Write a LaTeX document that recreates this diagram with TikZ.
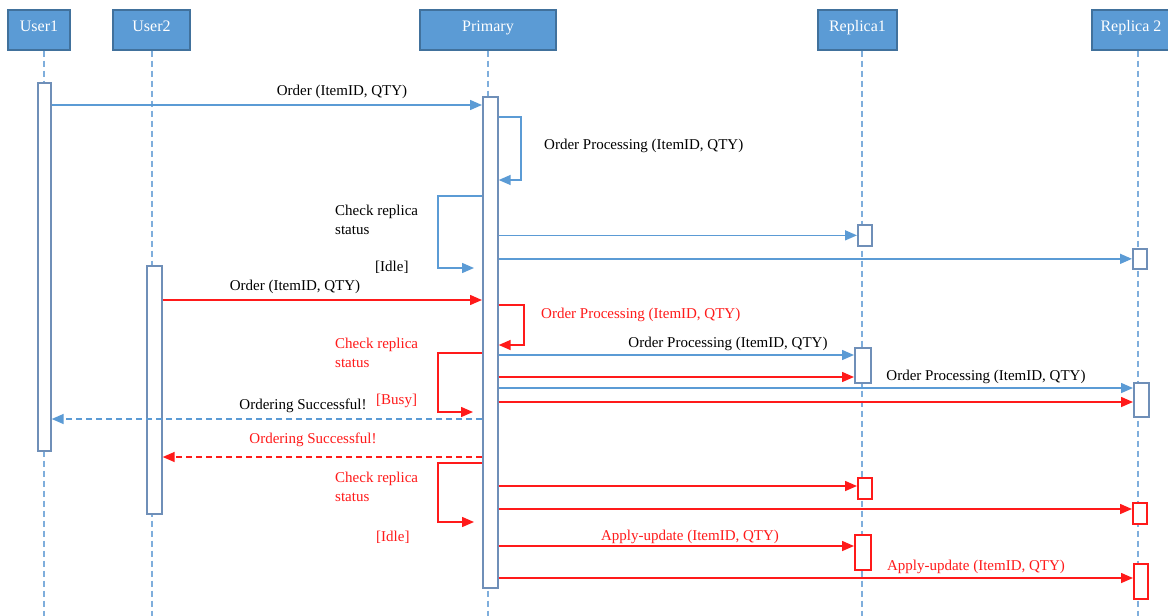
\documentclass[tikz,border=0pt]{standalone}
\usepackage{fontspec}
\setmainfont{Liberation Serif}
\usetikzlibrary{arrows.meta}
\definecolor{hdrfill}{HTML}{5B9BD5}
\definecolor{hdrline}{HTML}{41719C}
\definecolor{msgblue}{HTML}{5B9BD5}
\definecolor{actline}{HTML}{6F8FB8}
\definecolor{msgred}{HTML}{FF1A1A}
\definecolor{lifeblue}{HTML}{7FAEDC}
\begin{document}
\begin{tikzpicture}[x=1pt,y=-1pt,
  hdrbox/.style={draw=hdrline, fill=hdrfill, line width=1.2pt, text=white, inner sep=0pt, minimum height=40pt, font=\fontsize{16}{16}\selectfont, text height=10pt, text depth=7pt},
  lifeline/.style={draw=lifeblue, line width=1.2pt, dash pattern=on 6pt off 4pt},
  actbox/.style={draw=actline, fill=white, line width=1.7pt, inner sep=0pt, anchor=north west},
  ractbox/.style={actbox, draw=msgred},
  tiparrow/.style={-{Triangle[length=12pt,width=10pt]}},
  bmsg/.style={draw=msgblue, line width=1.5pt, tiparrow},
  rmsg/.style={draw=msgred, line width=1.5pt, tiparrow},
  retdash/.style={dash pattern=on 6pt off 4pt},
  lbl/.style={font=\fontsize{15}{19}\selectfont, inner sep=0pt, text=black},
  rlbl/.style={lbl, text=msgred},
]
\clip (0,0) rectangle (1168,616);
\fill[white] (0,0) rectangle (1168,616);

% headers
\node[hdrbox, minimum width=62pt]  (u1) at (39,30)    {User1};
\node[hdrbox, minimum width=77pt]  (u2) at (151.5,30) {User2};
\node[hdrbox, minimum width=136pt] (pr) at (488,30)   {Primary};
\node[hdrbox, minimum width=79pt]  (r1) at (857.5,30) {Replica1};
\node[hdrbox, minimum width=78pt]  (r2) at (1131,30)  {Replica 2};

% lifelines
\draw[lifeline] (u1.south -| 44,0)   -- (44,616);
\draw[lifeline] (u2.south -| 152,0)  -- (152,616);
\draw[lifeline] (pr.south -| 488,0)  -- (488,616);
\draw[lifeline] (r1.south -| 862,0)  -- (862,616);
\draw[lifeline] (r2.south -| 1138,0) -- (1138,616);

% activations
\node[actbox, minimum width=13pt, minimum height=368pt] (u1a) at (37,82) {};
\node[actbox, minimum width=15pt, minimum height=248pt] (u2a) at (146,265) {};
\node[actbox, minimum width=15pt, minimum height=491pt] (pa)  at (482,96) {};
\node[actbox, minimum width=14pt, minimum height=21pt]  (r1a) at (857,224) {};
\node[actbox, minimum width=14pt, minimum height=20pt]  (r2a) at (1132,248) {};
\node[actbox, minimum width=16pt, minimum height=35pt]  (r1b) at (854,347) {};
\node[actbox, minimum width=15pt, minimum height=34pt]  (r2b) at (1133,382) {};
\node[ractbox, minimum width=14pt, minimum height=21pt] (r1c) at (857,477) {};
\node[ractbox, minimum width=14pt, minimum height=21pt] (r2c) at (1132,502) {};
\node[ractbox, minimum width=16pt, minimum height=35pt] (r1d) at (854,534) {};
\node[ractbox, minimum width=14pt, minimum height=35pt] (r2d) at (1133,563) {};

% free ends of self messages
\coordinate (ck1) at (474,268);
\coordinate (ck2) at (473,412);
\coordinate (ck3) at (474,522);

% blue phase
\draw[bmsg] (u1a.east |- 0,105) -- (pa.west |- 0,105);
\node[lbl] (l1) at (342,92) {Order (ItemID, QTY)};
\draw[bmsg] (pa.east |- 0,117) -- (521,117) -- (521,180) -- (pa.east |- 0,180);
\node[lbl, anchor=west] (l2) at (544,146) {Order Processing (ItemID, QTY)};
\draw[bmsg] (pa.west |- 0,196) -- (438,196) -- (438,268) -- (ck1);
\node[lbl, anchor=west, align=left] (l3) at (335,219.5) {Check replica\\status};
\node[lbl, anchor=west] (l4) at (375,267) {[Idle]};
\draw[bmsg] (pa.east |- r1a.west) -- (r1a.west);
\draw[bmsg] (pa.east |- r2a.west) -- (r2a.west);

% red phase
\draw[rmsg] (u2a.east |- 0,300) -- (pa.west |- 0,300);
\node[lbl] (l5) at (295,287) {Order (ItemID, QTY)};
\draw[rmsg] (pa.east |- 0,305) -- (524,305) -- (524,345) -- (pa.east |- 0,345);
\node[rlbl, anchor=west] (l6) at (541,315) {Order Processing (ItemID, QTY)};
\draw[rmsg] (pa.west |- 0,353) -- (438,353) -- (438,412) -- (ck2);
\node[rlbl, anchor=west, align=left] (l7) at (335,352.5) {Check replica\\status};
\node[rlbl, anchor=west] (l8) at (376,401) {[Busy]};

\draw[bmsg] (pa.east |- 0,355) -- (r1b.west |- 0,355);
\node[lbl] (l9) at (728,344) {Order Processing (ItemID, QTY)};
\draw[rmsg] (pa.east |- 0,377) -- (r1b.west |- 0,377);
\draw[bmsg] (pa.east |- 0,388) -- (r2b.west |- 0,388);
\node[lbl] (l10) at (986,377) {Order Processing (ItemID, QTY)};
\draw[rmsg] (pa.east |- 0,402) -- (r2b.west |- 0,402);

\draw[bmsg, retdash] (pa.west |- 0,419) -- (u1a.east |- 0,419);
\node[lbl] (l11) at (303,406) {Ordering Successful!};
\draw[rmsg, retdash] (pa.west |- 0,457) -- (u2a.east |- 0,457);
\node[rlbl] (l12) at (313,440) {Ordering Successful!};

\draw[rmsg] (pa.west |- 0,463) -- (438,463) -- (438,522) -- (ck3);
\node[rlbl, anchor=west, align=left] (l13) at (335,487) {Check replica\\status};
\node[rlbl, anchor=west] (l14) at (376,537) {[Idle]};
\draw[rmsg] (pa.east |- 0,486) -- (r1c.west |- 0,486);
\draw[rmsg] (pa.east |- 0,509) -- (r2c.west |- 0,509);
\draw[rmsg] (pa.east |- 0,546) -- (r1d.west |- 0,546);
\node[rlbl] (l15) at (690,537) {Apply-update (ItemID, QTY)};
\draw[rmsg] (pa.east |- 0,578) -- (r2d.west |- 0,578);
\node[rlbl] (l16) at (976,567) {Apply-update (ItemID, QTY)};
\end{tikzpicture}
\end{document}
